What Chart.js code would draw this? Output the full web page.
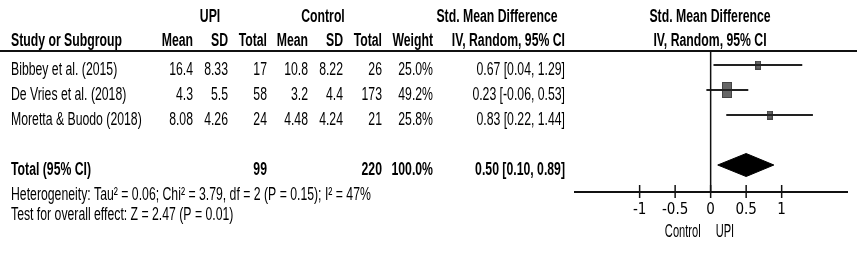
<!DOCTYPE html>
<html>
<head>
<meta charset="utf-8">
<script src="https://cdn.jsdelivr.net/npm/chart.js@4.4.0/dist/chart.umd.min.js"></script>
<style>
  html, body { margin: 0; padding: 0; background: #fff; }
  #wrap { width: 857px; height: 255px; }
</style>
</head>
<body>
<div id="wrap"><canvas id="forest"></canvas></div>
<script>
// study data
const studies = ["Bibbey et al. (2015)", "De Vries et al. (2018)", "Moretta & Buodo (2018)"];
const upiMean = ["16.4", "4.3", "8.08"];
const upiSD = ["8.33", "5.5", "4.26"];
const upiN = [17, 58, 24];
const ctrlMean = ["10.8", "3.2", "4.48"];
const ctrlSD = ["8.22", "4.4", "4.24"];
const ctrlN = [26, 173, 21];
const weights = [25.0, 49.2, 25.8];
const smd = [0.67, 0.23, 0.83];
const ciLow = [0.04, -0.06, 0.22];
const ciHigh = [1.29, 0.53, 1.44];

// pooled result
const totalSmd = 0.50;
const totalLow = 0.10;
const totalHigh = 0.89;
const totalUpiN = 99;
const totalCtrlN = 220;
const heterogeneityText = "Heterogeneity: Tau\u00b2 = 0.06; Chi\u00b2 = 3.79, df = 2 (P = 0.15); I\u00b2 = 47%";
const overallText = "Test for overall effect: Z = 2.47 (P = 0.01)";

const tickValues = [-1, -0.5, 0, 0.5, 1];
const sideLabels = ["Control", "UPI"];

// layout
const ROW_TOP = 0.44, ROW_BOTTOM = 6.08;
const TOTAL_ROW = 5;
const FONT = '"Liberation Sans", Arial, sans-serif';

function fmt(v) { return v.toFixed(2); }
function ciText(e, l, h) { return fmt(e) + " [" + fmt(l) + ", " + fmt(h) + "]"; }

// weight squares (slightly taller than wide, like the picture)
function makeSquare(w) {
  const side = Math.round(6 * Math.pow(w / 25, 0.75));
  const c = document.createElement("canvas");
  c.width = side;
  c.height = Math.round(side * 1.55);
  const g = c.getContext("2d");
  g.fillStyle = "#666";
  g.fillRect(0, 0, c.width, c.height);
  g.strokeStyle = "#444";
  g.strokeRect(0.5, 0.5, c.width - 1, c.height - 1);
  return c;
}

function txt(ctx, s, x, y, align, bold, size, squeeze) {
  ctx.save();
  ctx.translate(x, y);
  ctx.scale(squeeze || 0.70, 1);
  ctx.font = (bold ? "bold " : "") + (size || 17.5) + "px " + FONT;
  ctx.textAlign = align;
  ctx.textBaseline = "alphabetic";
  ctx.fillStyle = "#000";
  ctx.fillText(s, 0, 0);
  ctx.restore();
}

const tablePlugin = {
  id: "table",
  afterDraw(chart) {
    const ctx = chart.ctx;
    const ys = chart.scales.y;
    const xs = chart.scales.x;
    const base = (r) => ys.getPixelForValue(r) + 9.5;
    const h1 = 21.5, h2 = 46;

    // header
    txt(ctx, "UPI", 210, h1, "center", true);
    txt(ctx, "Control", 323, h1, "center", true);
    txt(ctx, "Std. Mean Difference", 497, h1, "center", true);
    txt(ctx, "Std. Mean Difference", 710, h1, "center", true);
    txt(ctx, "Study or Subgroup", 11, h2, "left", true);
    txt(ctx, "Mean", 193, h2, "right", true);
    txt(ctx, "SD", 228, h2, "right", true);
    txt(ctx, "Total", 267, h2, "right", true);
    txt(ctx, "Mean", 308, h2, "right", true);
    txt(ctx, "SD", 343, h2, "right", true);
    txt(ctx, "Total", 382, h2, "right", true);
    txt(ctx, "Weight", 433, h2, "right", true);
    txt(ctx, "IV, Random, 95% CI", 565, h2, "right", true);
    txt(ctx, "IV, Random, 95% CI", 710, h2, "center", true);

    ctx.save();
    ctx.strokeStyle = "#111";
    ctx.lineWidth = 2;
    ctx.beginPath();
    ctx.moveTo(0, chart.chartArea.top);
    ctx.lineTo(857, chart.chartArea.top);
    ctx.stroke();
    ctx.restore();

    // study rows
    studies.forEach((s, i) => {
      const y = base(i + 1);
      txt(ctx, s, 11, y, "left");
      txt(ctx, upiMean[i], 193, y, "right");
      txt(ctx, upiSD[i], 228, y, "right");
      txt(ctx, String(upiN[i]), 267, y, "right");
      txt(ctx, ctrlMean[i], 308, y, "right");
      txt(ctx, ctrlSD[i], 343, y, "right");
      txt(ctx, String(ctrlN[i]), 382, y, "right");
      txt(ctx, weights[i].toFixed(1) + "%", 433, y, "right");
      txt(ctx, ciText(smd[i], ciLow[i], ciHigh[i]), 565, y, "right");
    });

    // total
    const yt = base(TOTAL_ROW);
    txt(ctx, "Total (95% CI)", 11, yt, "left", true);
    txt(ctx, String(totalUpiN), 267, yt, "right", true);
    txt(ctx, String(totalCtrlN), 382, yt, "right", true);
    txt(ctx, "100.0%", 433, yt, "right", true);
    txt(ctx, ciText(totalSmd, totalLow, totalHigh), 565, yt, "right", true);
    txt(ctx, heterogeneityText, 11, 199.5, "left");
    txt(ctx, overallText, 11, 220, "left");

    // tick marks crossing the axis
    const ay = chart.chartArea.bottom;
    ctx.save();
    ctx.strokeStyle = "#111";
    ctx.lineWidth = 1.5;
    tickValues.forEach(v => {
      const px = xs.getPixelForValue(v);
      ctx.beginPath();
      ctx.moveTo(px, ay - 7);
      ctx.lineTo(px, ay + 6);
      ctx.stroke();
    });
    ctx.restore();

    // favours labels
    const x0 = xs.getPixelForValue(0);
    txt(ctx, sideLabels[0], x0 - 10, 237, "right", false, 18.5, 0.6);
    txt(ctx, sideLabels[1], x0 + 5, 237, "left", false, 18.5, 0.6);
  }
};

const datasets = [];

// line of no effect
datasets.push({
  type: "line",
  data: [{ x: 0, y: ROW_TOP }, { x: 0, y: ROW_BOTTOM }],
  borderColor: "#111",
  borderWidth: 1.5,
  pointRadius: 0
});

// confidence intervals
studies.forEach((s, i) => {
  datasets.push({
    type: "line",
    data: [{ x: ciLow[i], y: i + 1 }, { x: ciHigh[i], y: i + 1 }],
    borderColor: "#222",
    borderWidth: 2,
    pointRadius: 0
  });
});

// point estimates
datasets.push({
  type: "scatter",
  data: smd.map((v, i) => ({ x: v, y: i + 1 })),
  pointStyle: weights.map(makeSquare),
  pointRadius: 5
});

// pooled diamond
const dh = 0.46;
datasets.push({
  type: "line",
  data: [
    { x: totalLow, y: TOTAL_ROW },
    { x: totalSmd, y: TOTAL_ROW - dh },
    { x: totalHigh, y: TOTAL_ROW },
    { x: totalSmd, y: TOTAL_ROW + dh },
    { x: totalLow, y: TOTAL_ROW }
  ],
  borderColor: "#000",
  backgroundColor: "#000",
  borderWidth: 1,
  fill: "shape",
  pointRadius: 0,
  tension: 0
});

new Chart(document.getElementById("forest"), {
  type: "scatter",
  data: { datasets: datasets },
  options: {
    responsive: true,
    maintainAspectRatio: false,
    animation: false,
    layout: { padding: { left: 575, right: 10, top: 51, bottom: 0 } },
    plugins: { legend: { display: false }, tooltip: { enabled: false } },
    scales: {
      x: {
        type: "linear",
        min: -1.91,
        max: 1.92,
        afterBuildTicks: (scale) => { scale.ticks = tickValues.map(v => ({ value: v })); },
        afterFit: (scale) => { scale.height = 63; },
        grid: { display: false, drawTicks: false },
        border: { display: true, color: "#111", width: 2 },
        ticks: {
          padding: 9,
          color: "#000",
          font: { family: '"Liberation Sans Narrow", "DejaVu Sans Condensed", sans-serif', size: 15 },
          callback: (v) => String(v)
        }
      },
      y: {
        type: "linear",
        display: false,
        reverse: true,
        min: ROW_TOP,
        max: ROW_BOTTOM
      }
    }
  },
  plugins: [tablePlugin]
});
</script>
</body>
</html>
